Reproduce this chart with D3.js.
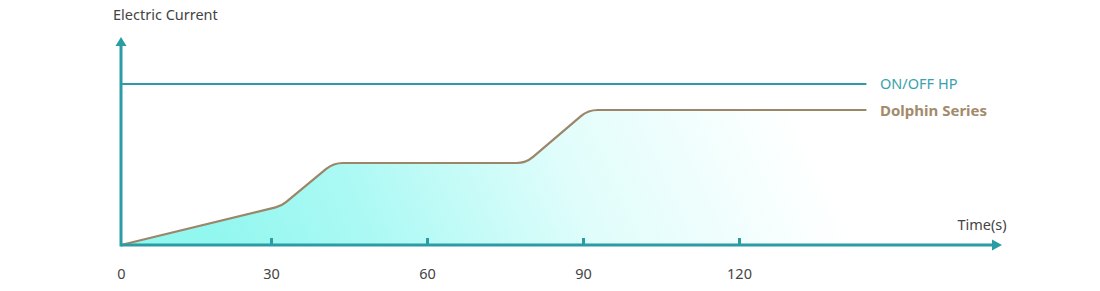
<!DOCTYPE html>
<html><head><meta charset="utf-8">
<script src="https://cdn.jsdelivr.net/npm/d3@7"></script>
<style>body{margin:0;background:#fff}svg{display:block}text{font-family:"Noto Sans",sans-serif}</style>
</head><body><svg id="c" width="1100" height="291"></svg>
<script>
// Data
const ticks = [0, 30, 60, 90, 120];
const dolphinTime = [0, 32, 42, 79, 91, 144.5];
const dolphinValue = [0, 19.5, 41, 41, 67.5, 67.5];
const onoffTime = [0, 144.5];
const onoffValue = [80.5, 80.5];
const seriesNames = ["ON/OFF HP", "Dolphin Series"];
const axisTitles = ["Electric Current", "Time(s)"];

const svg = d3.select("#c");
const teal = "#2b9ca3", brown = "#9c866a";
const x = d3.scaleLinear().domain([0, 30, 120]).range([121, 271, 739]);
const y = d3.scaleLinear().domain([0, 100]).range([245, 45]);

const defs = svg.append("defs");
const g = defs.append("linearGradient").attr("id", "fill")
  .attr("gradientUnits", "userSpaceOnUse")
  .attr("x1", 230).attr("y1", 270).attr("x2", 760).attr("y2", 30);
g.append("stop").attr("offset", 0).attr("stop-color", "#92f7ef");
g.append("stop").attr("offset", 0.25).attr("stop-color", "#acf9f4");
g.append("stop").attr("offset", 0.6).attr("stop-color", "#e0fdfb");
g.append("stop").attr("offset", 1).attr("stop-color", "#ffffff");

const pts = dolphinTime.map((t, i) => [x(t), y(dolphinValue[i])]);
function rounded(p, r, close) {
  const path = d3.path();
  path.moveTo(p[0][0], p[0][1]);
  for (let i = 1; i < p.length - 1; i++) path.arcTo(p[i][0], p[i][1], p[i+1][0], p[i+1][1], r);
  path.lineTo(p[p.length-1][0], p[p.length-1][1]);
  if (close) { path.lineTo(p[p.length-1][0], y(0)); path.lineTo(p[0][0], y(0)); path.closePath(); }
  return path.toString();
}
svg.append("path").attr("d", rounded(pts, 26, true)).attr("fill", "url(#fill)");
svg.append("path").attr("d", rounded(pts, 26, false)).attr("fill", "none")
  .attr("stroke", brown).attr("stroke-width", 2.2);

// ON/OFF line
svg.append("path").attr("d", d3.line().x((d,i)=>x(onoffTime[i])).y(d=>y(d))(onoffValue))
  .attr("stroke", teal).attr("stroke-width", 2.2).attr("fill", "none");

// x axis
const xa = svg.append("g").attr("transform", `translate(0,${y(0)})`)
  .call(d3.axisBottom(x).tickValues(ticks).tickSize(0).tickPadding(24));
xa.select(".domain").remove();
xa.selectAll("text").attr("font-size", 14.5).attr("fill", "#444").attr("font-family", "Noto Sans");
xa.selectAll(".tick").filter(d => d > 0).append("line")
  .attr("y1", 0).attr("y2", -7).attr("stroke", teal).attr("stroke-width", 3);

svg.append("line").attr("x1", x(0)).attr("x2", 994).attr("y1", y(0)).attr("y2", y(0))
  .attr("stroke", teal).attr("stroke-width", 3);
svg.append("path").attr("d", `M1002,${y(0)}L992,${y(0)-5.5}L992,${y(0)+5.5}Z`).attr("fill", teal);
svg.append("line").attr("x1", x(0)).attr("x2", x(0)).attr("y1", y(0)+1.5).attr("y2", 44)
  .attr("stroke", teal).attr("stroke-width", 3);
svg.append("path").attr("d", `M${x(0)},37L${x(0)-5.5},46L${x(0)+5.5},46Z`).attr("fill", teal);

svg.append("text").attr("x", 113).attr("y", 20).attr("font-size", 14.5).attr("fill", "#444").text(axisTitles[0]);
svg.append("text").attr("x", 982).attr("y", 230).attr("text-anchor", "middle").attr("font-size", 14.5).attr("fill", "#444").text(axisTitles[1]);

svg.append("text").attr("x", 880).attr("y", y(onoffValue[1])+5).attr("font-size", 14.5).attr("fill", "#3aa2aa").text(seriesNames[0]);
svg.append("text").attr("x", 880).attr("y", y(dolphinValue[dolphinValue.length-1])+6).attr("font-size", 15).attr("font-weight", "bold").attr("fill", "#a38a6c").text(seriesNames[1]);
</script></body></html>
